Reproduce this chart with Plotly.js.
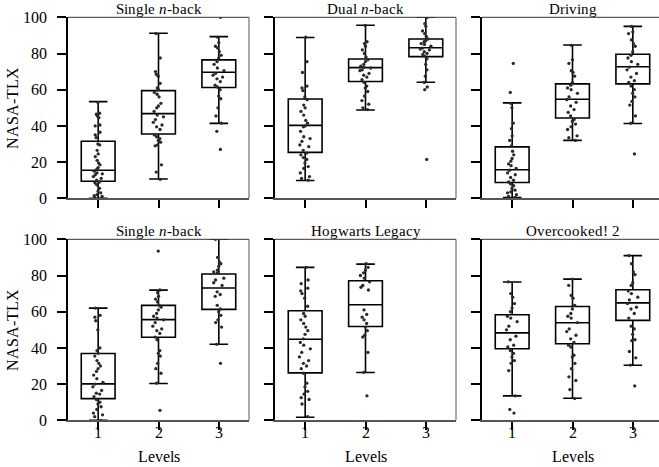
<!DOCTYPE html>
<html><head><meta charset="utf-8">
<script src="https://cdn.plot.ly/plotly-3.0.1.min.js"></script>
<style>
@font-face{font-family:"TimesLike";font-style:normal;font-weight:400;src:local("Liberation Serif"),local("LiberationSerif"),local("LiberationSerif-Regular"),local("Liberation Serif Regular"),local("Tinos"),local("Times New Roman"),local("Nimbus Roman"),local("FreeSerif");}
@font-face{font-family:"TimesLike";font-style:italic;font-weight:400;src:local("Liberation Serif Italic"),local("LiberationSerif-Italic"),local("Tinos Italic"),local("Times New Roman Italic"),local("FreeSerifItalic");}
html,body{margin:0;padding:0;background:#fff}#chart{width:659px;height:467px}
</style>
</head><body><div id="chart"></div>
<script>
// ---- data ----
const levels = [1, 2, 3];
const panelTitles = ["Single <i>n</i>-back", "Dual <i>n</i>-back", "Driving", "Single <i>n</i>-back", "Hogwarts Legacy", "Overcooked! 2"];
const yTicks = [0, 20, 40, 60, 80, 100];

// box statistics per panel (levels 1..3)
const q1_p1 = [9.4, 35.5, 61.2], med_p1 = [15.5, 46.8, 69.6], q3_p1 = [31.5, 59.5, 76.5], lo_p1 = [0, 10.7, 41.4], hi_p1 = [53.4, 91.2, 89.3];
const q1_p2 = [25.4, 64.5, 78.3], med_p2 = [40.3, 72.2, 83.2], q3_p2 = [54.9, 77.0, 88.0], lo_p2 = [9.8, 48.8, 64.1], hi_p2 = [88.8, 95.6, 100];
const q1_p3 = [8.7, 44.4, 63.2], med_p3 = [15.8, 54.7, 72.7], q3_p3 = [28.4, 63.2, 79.6], lo_p3 = [0.4, 32.0, 41.3], hi_p3 = [52.7, 84.7, 95.0];
const q1_p4 = [12.0, 45.9, 61.3], med_p4 = [20.1, 55.6, 73.1], q3_p4 = [36.9, 63.5, 80.8], lo_p4 = [0, 20.3, 42.0], hi_p4 = [62.0, 71.9, 100];
const q1_p5 = [26.2, 51.8], med_p5 = [44.8, 63.8], q3_p5 = [60.5, 77.1], lo_p5 = [1.7, 26.4], hi_p5 = [84.5, 86.3];
const q1_p6 = [39.5, 42.3, 55.2], med_p6 = [48.3, 53.9, 64.9], q3_p6 = [58.3, 62.9, 72.1], lo_p6 = [13.5, 12.2, 30.4], hi_p6 = [76.4, 78.0, 91.0];

// individual NASA-TLX scores
const p1_l1 = [53, 47, 46.5, 45.5, 44.5, 40.5, 40, 36.5, 35, 33.5, 30, 29.5, 26.5, 24.5, 23, 21, 19.5, 18.5, 17, 16, 15, 14, 13.5, 13, 12, 11, 10, 9, 8.5, 7.5, 5.5, 4, 3, 2, 1.5, 1, 0.5, 0];
const p1_l2 = [91, 77.5, 70, 68.5, 67.5, 63.5, 61, 60, 58.5, 57.5, 56, 52.5, 51, 50, 48, 46, 45, 43.5, 42, 40.5, 39.5, 38, 35, 34, 33, 32, 31, 29.5, 29, 18.5, 14.5, 10.5];
const p1_l3 = [100, 89, 86, 84, 83, 81, 79, 77.5, 75.5, 74, 72, 70.5, 69, 68, 67, 66, 64.5, 62.5, 61.5, 60, 56.5, 55, 50, 45.5, 41.5, 37, 27];
const p2_l1 = [89, 75.5, 69.5, 62, 61, 59.5, 56, 54.5, 51.5, 50, 48, 46, 43, 41.5, 40, 39.5, 37, 34, 33, 31.5, 29.5, 28.5, 26.5, 25, 24, 22.5, 21.5, 19.5, 17.5, 16.5, 14, 12, 11, 10];
const p2_l2 = [95.5, 86.5, 85.5, 84, 82, 80, 78, 76.5, 75.5, 74, 73, 72.5, 72, 71, 70.5, 69, 68, 67, 65.5, 64, 62, 61, 59, 56.5, 54, 52, 50, 49];
const p2_l3 = [100, 96.5, 95, 92.5, 91, 89.5, 88, 87, 86.5, 85.5, 85, 84, 83, 82.5, 82, 81, 80, 79.5, 78.5, 77, 74, 71, 67.5, 64, 61.5, 60, 21.5];
const p3_l1 = [74.5, 58.5, 52.5, 50, 41.5, 38.5, 34.5, 32, 29, 26, 24, 22, 20.5, 19, 18, 16.5, 15.5, 14, 13, 11.5, 10, 9, 8, 7, 5.5, 4.5, 3.5, 3, 2, 1, 0.5];
const p3_l2 = [84.5, 76.5, 74.5, 70.5, 69.5, 67.5, 64, 62.5, 61, 60, 58, 56, 54.5, 53, 51, 49, 47.5, 45.5, 43.5, 42.5, 41, 39.5, 38, 34.5, 33.5, 32];
const p3_l3 = [95, 92, 91, 87.5, 85.5, 84, 81, 79, 77.5, 75.5, 74, 72.5, 71, 69, 67, 65, 64, 62, 60, 58, 56, 53.5, 51.5, 45.5, 41.5, 24.5];
const p4_l1 = [62, 58, 57, 55, 50, 40, 38.5, 37, 35.5, 33, 31.5, 30, 28.5, 27, 25, 23, 21, 20, 18.5, 16.5, 15, 14.5, 13, 11.5, 10, 9, 7.5, 6, 4, 3, 2, 0];
const p4_l2 = [93.5, 72, 70.5, 68.5, 67, 65.5, 63.5, 62.5, 61, 59, 57.5, 56.5, 55.5, 54, 52, 50.5, 49.5, 48, 46, 44.5, 38.5, 37, 35.5, 31.5, 28.5, 26, 20.5, 5.5];
const p4_l3 = [100, 90, 87.5, 86.5, 85, 83, 82, 81.5, 78.5, 77.5, 76, 74.5, 71, 69.5, 68.5, 63.5, 61.5, 60, 58, 55.5, 54, 51.5, 42, 31.5];
const p5_l1 = [84.5, 77.5, 75.5, 73, 71.5, 70, 67.5, 63, 59, 57.5, 55.5, 53.5, 51.5, 49.5, 47.5, 45, 43, 41.5, 39.5, 37.5, 35, 33, 31.5, 30, 28.5, 26, 20.5, 18.5, 16, 14.5, 12.5, 11.5, 9, 2];
const p5_l2 = [86.5, 84.5, 83, 81.5, 80, 78.5, 76.5, 74.5, 73.5, 72, 61, 58.5, 57, 55.5, 53.5, 51.5, 49.5, 47, 46, 37.5, 26.5, 13.5];
const p6_l1 = [76.5, 70, 68, 64.5, 62, 60, 57.5, 56.5, 54.5, 52, 50, 46.5, 44.5, 41.5, 40.5, 38.5, 37, 35, 33, 31.5, 27.5, 13.5, 6, 4];
const p6_l2 = [78, 74.5, 69, 67.5, 63.5, 61.5, 59, 57.5, 56.5, 54, 50.5, 49, 47, 45, 43, 41.5, 40.5, 36, 35, 31.5, 28.5, 24, 22, 17, 12];
const p6_l3 = [91, 86.5, 82, 80.5, 76, 74.5, 71.5, 70, 68, 66.5, 64.5, 62.5, 61.5, 59, 56.5, 52, 50.5, 47.5, 44.5, 44, 38, 34.5, 30.5, 19];

// ---- build ----
const W = 659, H = 467;
const FONT = "TimesLike, DejaVu Serif";
const panels = [
  {stats:[q1_p1, med_p1, q3_p1, lo_p1, hi_p1], pts:[p1_l1, p1_l2, p1_l3]},
  {stats:[q1_p2, med_p2, q3_p2, lo_p2, hi_p2], pts:[p2_l1, p2_l2, p2_l3]},
  {stats:[q1_p3, med_p3, q3_p3, lo_p3, hi_p3], pts:[p3_l1, p3_l2, p3_l3]},
  {stats:[q1_p4, med_p4, q3_p4, lo_p4, hi_p4], pts:[p4_l1, p4_l2, p4_l3]},
  {stats:[q1_p5, med_p5, q3_p5, lo_p5, hi_p5], pts:[p5_l1, p5_l2]},
  {stats:[q1_p6, med_p6, q3_p6, lo_p6, hi_p6], pts:[p6_l1, p6_l2, p6_l3]}
];
const colPx = [[68, 249], [275, 456], [482, 659]];
const rowPx = [[17.3, 198.3], [239.3, 420.3]];
const xRanges = [[0.5, 3.5], [0.5, 3.5], [0.5, 0.5 + (659 - 482) / 60.33]];
const centers = [158.5, 365.5, 572.5];

function draw() {
  const traces = [];
  const layout = {
    width: W, height: H, margin: {l: 0, r: 0, t: 0, b: 0},
    paper_bgcolor: "#fff", plot_bgcolor: "#fff", showlegend: false,
    boxmode: "overlay", boxgap: 0.2,
    font: {family: FONT, size: 15, color: "#000"},
    annotations: [], shapes: []
  };
  panels.forEach((p, i) => {
    const r = Math.floor(i / 3), c = i % 3;
    const sfx = i === 0 ? "" : String(i + 1);
    const xa = "x" + sfx, ya = "y" + sfx;
    const xs = levels.slice(0, p.pts.length);
    traces.push({
      type: "box", xaxis: xa, yaxis: ya, x: xs,
      q1: p.stats[0], median: p.stats[1], q3: p.stats[2], lowerfence: p.stats[3], upperfence: p.stats[4],
      boxpoints: false, fillcolor: "rgba(255,255,255,0)",
      line: {color: "#000", width: 1.6}, whiskerwidth: 0.55, hoverinfo: "skip"
    });
    p.pts.forEach((vals, k) => {
      traces.push({
        type: "box", xaxis: xa, yaxis: ya, x0: levels[k], y: vals,
        boxpoints: "all", jitter: 0.35, pointpos: 0,
        fillcolor: "rgba(0,0,0,0)", line: {width: 0, color: "rgba(0,0,0,0)"},
        marker: {color: "#2a2a2a", size: 3.3, line: {width: 0}}, hoverinfo: "skip"
      });
    });
    const xd = [colPx[c][0] / W, colPx[c][1] / W];
    const yd = [(H - rowPx[r][1]) / H, (H - rowPx[r][0]) / H];
    layout["xaxis" + sfx] = {
      domain: xd, anchor: ya, range: xRanges[c], tickvals: levels,
      showticklabels: false, ticks: "outside", ticklen: 8, tickwidth: 2, tickcolor: "#000",
      showline: true, linecolor: "#555", linewidth: 1.5, showgrid: false, zeroline: false, fixedrange: true
    };
    layout["yaxis" + sfx] = {
      domain: yd, anchor: xa, range: [0, 100], tickvals: yTicks,
      showticklabels: c === 0, ticks: "outside", ticklen: 9, tickwidth: 2, tickcolor: "#000",
      showline: true, linecolor: "#000", linewidth: 2, showgrid: false, zeroline: false,
      tickfont: {family: FONT, size: 16, color: "#000"}, ticklabelstandoff: 7, fixedrange: true
    };
    layout.shapes.push({type: "line", xref: xa + " domain", yref: ya + " domain", x0: 0, x1: 1, y0: 1, y1: 1, line: {color: "#333", width: 1}});
    if (c < 2) layout.shapes.push({type: "line", xref: xa + " domain", yref: ya + " domain", x0: 1, x1: 1, y0: 0, y1: 1, line: {color: "#555", width: 1}});
    layout.annotations.push({
      text: panelTitles[i], xref: "paper", yref: "paper", x: centers[c] / W, y: (H - (rowPx[r][0] - 8.5)) / H,
      xanchor: "center", yanchor: "middle", showarrow: false, borderpad: 0, font: {family: FONT, size: 15, color: "#000"}
    });
    if (r === 1) {
      // x tick labels for the bottom row
      levels.forEach(lv => {
        layout.annotations.push({
          text: String(lv), xref: xa, yref: "paper", x: lv, y: (H - 432) / H,
          xanchor: "center", yanchor: "middle", showarrow: false, borderpad: 0, font: {family: FONT, size: 16, color: "#000"}
        });
      });
      layout.annotations.push({
        text: "Levels", xref: "paper", yref: "paper", x: centers[c] / W, y: (H - 456.5) / H,
        xanchor: "center", yanchor: "middle", showarrow: false, borderpad: 0, font: {family: FONT, size: 16, color: "#000"}
      });
    }
    if (c === 0) layout.annotations.push({
      text: "NASA-TLX", xref: "paper", yref: "paper", x: 13 / W, y: (H - (rowPx[r][0] + rowPx[r][1]) / 2) / H,
      xanchor: "center", yanchor: "middle", textangle: -90, showarrow: false, borderpad: 0, font: {family: FONT, size: 16, color: "#000"}
    });
  });
  Plotly.newPlot("chart", traces, layout, {staticPlot: true, displayModeBar: false});
}

const fontReady = (document.fonts && document.fonts.load)
  ? Promise.all([document.fonts.load('16px "TimesLike"'), document.fonts.load('italic 16px "TimesLike"')]).catch(() => null)
  : Promise.resolve();
fontReady.then(draw, draw);
</script></body></html>
